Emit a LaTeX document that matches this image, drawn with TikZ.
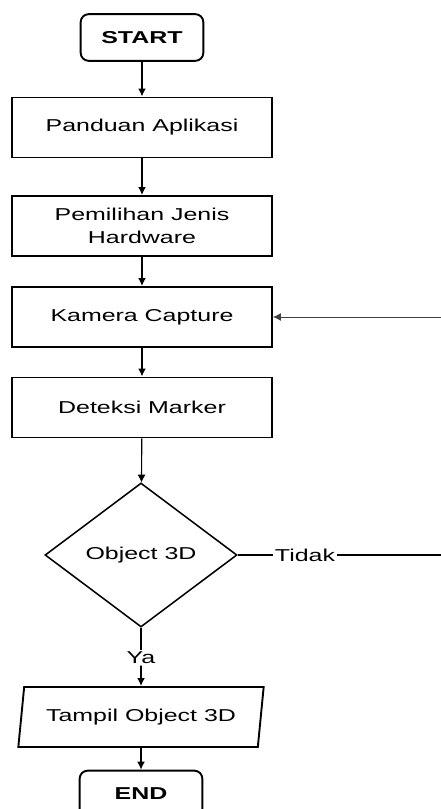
\documentclass[tikz,border=0pt]{standalone}
\usepackage{fontspec}
\setmainfont{Liberation Sans}[FakeStretch=1.45]
\usepackage{tikz}
\usetikzlibrary{arrows.meta,shapes.geometric,positioning}
\newcommand{\chartfont}{\fontsize{12.9}{17}\selectfont}
\tikzset{
	terminal/.style={draw, line width=0.05cm, rounded corners=6pt, minimum width=92pt, minimum height=35pt, inner sep=0pt, font=\chartfont\bfseries},
	process/.style={draw, line width=0.05cm, minimum width=195pt, minimum height=45pt, inner sep=0pt, align=center},
	decision/.style={draw, line width=0.04cm, diamond, aspect=1.333, minimum width=144pt, minimum height=108pt, inner sep=0pt},
	io/.style={draw, line width=0.05cm, trapezium, trapezium left angle=70, trapezium right angle=110, trapezium stretches body, minimum width=184pt, minimum height=45pt, inner sep=0pt},
	flow/.style={line width=0.05cm, -{Latex[length=6pt,width=6pt]}},
	label/.style={fill=white, inner sep=1pt}
}
\begin{document}
\begin{tikzpicture}[x=0.75pt, y=-0.75pt, font=\chartfont]
	% page size
	\useasboundingbox (0,0) rectangle (441,809);
	% nodes
	\node[terminal] (start) at (142,37.5) {START};
	\node[process] (panduan) at (142,127.5) {Panduan Aplikasi};
	\node[process] (hardware) at (142,226) {Pemilihan Jenis\\Hardware};
	\node[process] (kamera) at (142,317) {Kamera Capture};
	\node[process] (deteksi) at (142,407.5) {Deteksi Marker};
	\node[decision] (object) at (141,555) {Object 3D};
	\node[io] (tampil) at (141,717) {Tampil Object 3D};
	\node[terminal] (end) at (141,794) {END};
	% branch texts
	\node[label] (ya) at (141,658) {Ya};
	\node[label] (tidak) at (305,555) {Tidak};
	\coordinate (loopbot) at (470,555);
	\coordinate (looptop) at (470,317);
	% arrows
	\draw[flow] (start) -- (panduan);
	\draw[flow] (panduan) -- (hardware);
	\draw[flow] (hardware) -- (kamera);
	\draw[flow] (kamera) -- (deteksi);
	\draw[flow, line width=0.03cm] (deteksi) -- (object);
	\draw[line width=0.05cm] (object.south) -- (ya.north);
	\draw[flow] (ya.south) -- (tampil);
	\draw[flow] (tampil) -- (end);
	% loop back
	\draw[line width=0.03cm] (object.east) -- (tidak.west);
	\draw[line width=0.04cm] (tidak.east) -- (loopbot) -- (looptop);
	\draw[flow, line width=0.025cm, black!75] (looptop) -- (kamera.east);
\end{tikzpicture}
\end{document}
